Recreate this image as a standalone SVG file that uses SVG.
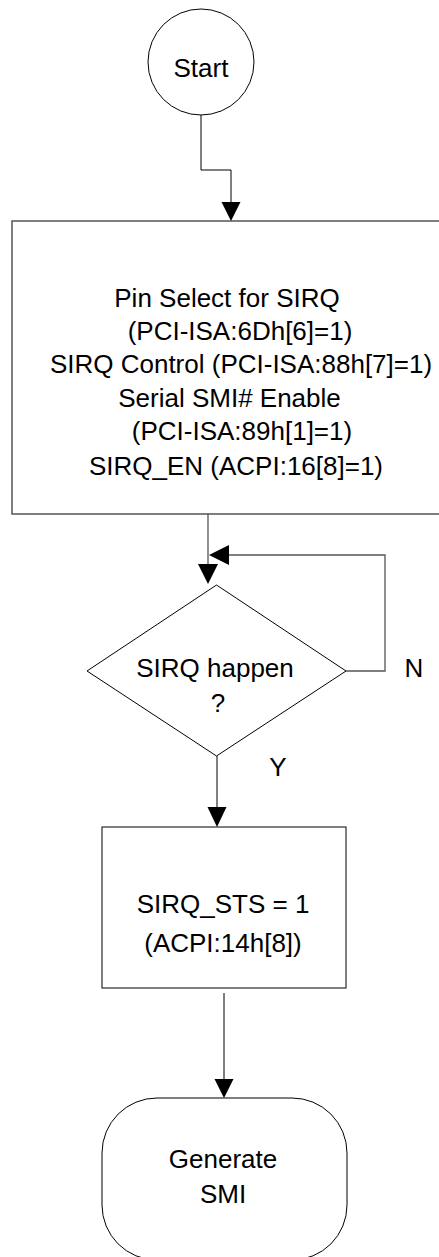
<svg xmlns="http://www.w3.org/2000/svg" width="439" height="1257" viewBox="0 0 439 1257">
<style>
.shape{fill:#fff;stroke:#000;stroke-width:1}
.box{fill:#fff;stroke:#555;stroke-width:1.5}
.line{fill:none;stroke:#555;stroke-width:1.3}
.line2{fill:none;stroke:#000;stroke-width:1}
.head{fill:#000;stroke:none}
text{font-family:"Liberation Sans",Arial,sans-serif;font-size:26px;fill:#000;text-anchor:middle}
</style>
<rect width="439" height="1257" fill="#fff"/>
<g id="start">
<circle class="shape" cx="201" cy="62" r="53"/>
<text x="201" y="77">Start</text>
</g>
<g id="setup">
<rect class="box" x="12" y="221" width="440" height="293"/>
<text x="227" y="307">Pin Select for SIRQ</text>
<text x="240" y="340">(PCI-ISA:6Dh[6]=1)</text>
<text x="241" y="373">SIRQ Control (PCI-ISA:88h[7]=1)</text>
<text x="229.5" y="407">Serial SMI# Enable</text>
<text x="242" y="440">(PCI-ISA:89h[1]=1)</text>
<text x="236" y="475">SIRQ_EN (ACPI:16[8]=1)</text>
</g>
<g id="decision">
<polygon class="shape" points="216.5,585 346,671 216.5,756 87,671"/>
<text x="215" y="677">SIRQ happen</text>
<text x="218" y="712">?</text>
</g>
<g id="status">
<rect class="shape" x="102" y="827" width="244" height="161"/>
<text x="223" y="913">SIRQ_STS = 1</text>
<text x="223" y="952">(ACPI:14h[8])</text>
</g>
<g id="smi">
<rect class="shape" x="102" y="1098" width="245" height="162" rx="55" ry="55"/>
<text x="223" y="1168">Generate</text>
<text x="223" y="1203">SMI</text>
</g>
<g id="connectors">
<polyline class="line2" points="201,115 201,170 231,170 231,203"/>
<polygon class="head" points="221.5,202 240.5,202 231,221"/>
<polyline class="line" points="208,514 208,565"/>
<polygon class="head" points="198,564 218,564 208,584"/>
<polyline class="line" points="346,671 385,671 385,555 228,555"/>
<polygon class="head" points="229,545 229,565 209,555"/>
<text x="414" y="677">N</text>
<polyline class="line2" points="217,756 217,808"/>
<polygon class="head" points="207.5,807 226.5,807 217,827"/>
<text x="278" y="776">Y</text>
<polyline class="line2" points="224,993 224,1080"/>
<polygon class="head" points="214.5,1079 233.5,1079 224,1098"/>
</g>
</svg>
